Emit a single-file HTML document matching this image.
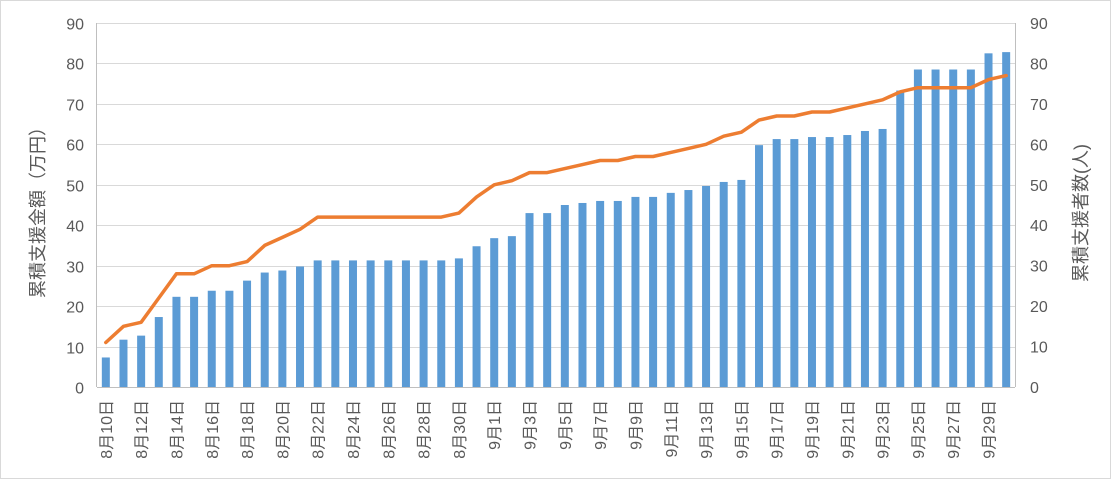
<!DOCTYPE html>
<html><head><meta charset="utf-8"><style>
html,body{margin:0;padding:0;background:#fff}
svg{display:block;font-family:"Liberation Sans","Noto Sans CJK JP",sans-serif}
</style></head><body>
<svg id="chart" width="1111" height="480" viewBox="0 0 1111 480">
<rect x="0.5" y="0.5" width="1110" height="478" fill="#fff" stroke="#d9d9d9"/>
<g id="grid"></g>
<g id="bars"></g>
<g id="line"></g>
<g id="axes"></g>
<text transform="translate(44,208) rotate(-90)" text-anchor="middle" font-size="18" fill="#595959">累積支援金額（万円）</text>
<text transform="translate(1087,213) rotate(-90)" text-anchor="middle" font-size="18" fill="#595959">累積支援者数(人)</text>
</svg>
<script>
const categories = [];
for (let d = 10; d <= 31; d++) categories.push('8月' + d + '日');
for (let d = 1; d <= 30; d++) categories.push('9月' + d + '日');
const amounts = [7.3,11.7,12.7,17.3,22.3,22.3,23.8,23.8,26.3,28.3,28.8,29.8,31.3,31.3,31.3,31.3,31.3,31.3,31.3,31.3,31.8,34.8,
36.8,37.3,43,43,45,45.5,46,46,47,47,48,48.7,49.7,50.7,51.2,59.8,61.3,61.3,61.8,61.8,62.3,63.3,63.8,73.3,78.5,78.5,78.5,78.5,82.5,82.8];
const supporters = [11,15,16,22,28,28,30,30,31,35,37,39,42,42,42,42,42,42,42,42,43,47,
50,51,53,53,54,55,56,56,57,57,58,59,60,62,63,66,67,67,68,68,69,70,71,73,74,74,74,74,76,77];
const ticks = [0,10,20,30,40,50,60,70,80,90];

const NS = 'http://www.w3.org/2000/svg';
const X0 = 97, X1 = 1015, Y0 = 387, Y1 = 23, MAX = 90;
const step = (X1 - X0) / categories.length;
const xc = i => X0 + step * (i + 0.5);
const yL = v => Y0 - (v / MAX) * (Y0 - Y1);
const yR = v => Y0 - (v / MAX) * (Y0 - Y1);
function mk(tag, attrs, parent) {
  const e = document.createElementNS(NS, tag);
  for (const k in attrs) e.setAttribute(k, attrs[k]);
  parent.appendChild(e);
  return e;
}
const grid = document.getElementById('grid'), axes = document.getElementById('axes');
ticks.forEach(t => {
  const y = Math.round(yL(t)) + 0.5;
  if (t > 0) {
    const g = mk('line', {x1: X0, x2: X1, y1: y, y2: y, stroke: '#d9d9d9', 'stroke-width': 1}, grid);
    
    
  }
  const l = mk('text', {x: 84, y: y + 6, 'text-anchor': 'end', 'font-size': 16, fill: '#595959'}, axes);
  l.textContent = t;
  
  
  const r = mk('text', {x: 1030, y: yR(t) + 6, 'text-anchor': 'start', 'font-size': 16, fill: '#595959'}, axes);
  r.textContent = t;
  
  
});
const ax = mk('line', {x1: X0, x2: X1, y1: Y0 + 0.5, y2: Y0 + 0.5, stroke: '#bfbfbf', 'stroke-width': 1}, axes);


const ay = mk('line', {x1: X0 - 0.5, x2: X0 - 0.5, y1: Y1, y2: Y0, stroke: '#bfbfbf', 'stroke-width': 1}, axes);


const ay2 = mk('line', {x1: X1 + 0.5, x2: X1 + 0.5, y1: Y1, y2: Y0, stroke: '#bfbfbf', 'stroke-width': 1}, axes);



const bars = document.getElementById('bars');
const bw = 8;
amounts.forEach((v, i) => {
  const b = mk('rect', {x: xc(i) - bw / 2, y: yL(v), width: bw, height: Y0 - yL(v), fill: '#5b9bd5'}, bars);
  
  
});
categories.forEach((c, i) => {
  if (i % 2) return;
  const t = mk('text', {transform: `translate(${xc(i) + 6},400) rotate(-90)`, 'text-anchor': 'end', 'font-size': 16, fill: '#595959'}, axes);
  t.textContent = c;
  
  
});
const pts = supporters.map((v, i) => xc(i).toFixed(1) + ',' + yR(v).toFixed(1)).join(' ');
const pl = mk('polyline', {points: pts, fill: 'none', stroke: '#ed7d31', 'stroke-width': 3.5, 'stroke-linejoin': 'round', 'stroke-linecap': 'round'}, document.getElementById('line'));


</script>
</body></html>
